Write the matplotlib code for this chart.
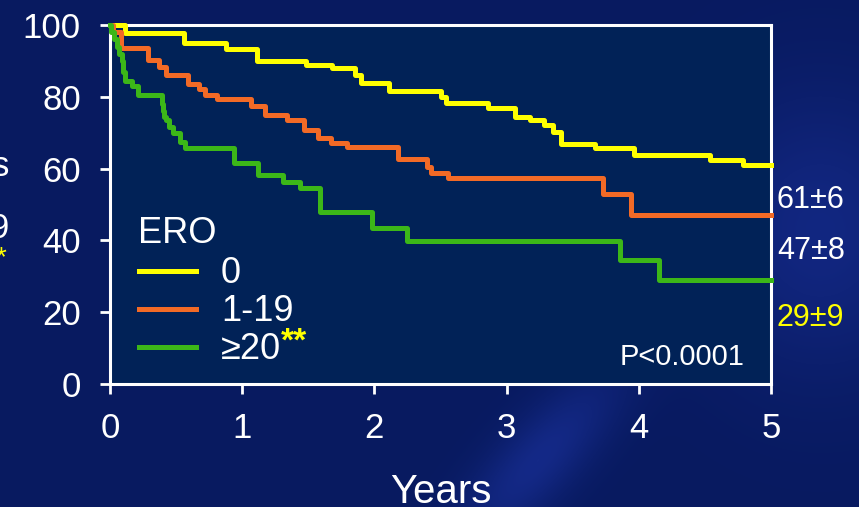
import numpy as np
import matplotlib.pyplot as plt
from matplotlib.lines import Line2D

plt.rcParams['font.family'] = ['Liberation Sans', 'DejaVu Sans']

# Kaplan-Meier steps per ERO group (years, % event-free)
t_ero0 = [0, 0.11, 0.56, 0.88, 1.11, 1.48, 1.68, 1.85, 1.90, 2.11, 2.50, 2.54,
          2.86, 3.06, 3.18, 3.28, 3.35, 3.41, 3.67, 3.96, 4.54, 4.79, 5.0]
s_ero0 = [100, 97.7, 94.9, 93.2, 90.1, 88.9, 87.9, 86.0, 83.8, 81.7, 80.0, 78.4,
          77.0, 74.5, 73.4, 72.2, 70.3, 66.9, 65.7, 63.8, 62.4, 61, 61]

t_ero1 = [0, 0.02, 0.08, 0.29, 0.37, 0.42, 0.59, 0.67, 0.72, 0.81, 1.07, 1.17,
          1.34, 1.47, 1.57, 1.67, 1.79, 2.18, 2.40, 2.43, 2.56, 3.73, 3.94, 5.0]
s_ero1 = [100, 98, 93.5, 90.2, 88.4, 86.0, 83.7, 82.3, 80.5, 79.3, 77.4, 74.9,
          73.5, 70.8, 68.5, 67.2, 65.9, 62.6, 60.5, 58.7, 57.3, 52.8, 47, 47]

t_ero20 = [0, 0.01, 0.03, 0.05, 0.07, 0.09, 0.10, 0.11, 0.17, 0.21, 0.39, 0.40,
           0.41, 0.42, 0.45, 0.48, 0.53, 0.57, 0.94, 1.12, 1.31, 1.44, 1.59,
           1.98, 2.25, 3.86, 4.15, 5.0]
s_ero20 = [100, 98, 96, 94, 92, 90, 87, 84.5, 83, 80.5, 78, 76,
           74.5, 73.4, 71.7, 69.8, 67.5, 65.8, 61.5, 58.2, 56.2, 54.5, 48,
           43.5, 39.8, 34.5, 29, 29]

groups = ['0', '1-19', '\u226520']
colors = ['#ffff00', '#f26a26', '#3cb718']
err_5y = [6, 8, 9]
end_colors = ['white', 'white', '#ffff00']

fig = plt.figure(figsize=(8.59, 5.07), dpi=100)

# slide background: dark blue with a faint light streak
bg = fig.add_axes([0, 0, 1, 1], zorder=0)
bg.axis('off')
yy, xx = np.mgrid[0:507, 0:859]
base = np.zeros((507, 859, 3))
base[..., 0] = 8 / 255
base[..., 1] = 26 / 255
base[..., 2] = 96 / 255
d = (xx - 560) * 0.8 + (yy - 430) * 0.6
streak = np.exp(-(d / 40.0) ** 2) * np.exp(-((yy - 460) / 90.0) ** 2) * 0.3
glow = np.exp(-(((xx - 820) / 120.0) ** 2 + ((yy - 230) / 140.0) ** 2)) * 0.25
for k, c in enumerate([40, 50, 130]):
    base[..., k] += (streak + glow) * c / 255
bg.imshow(np.clip(base, 0, 1), extent=[0, 1, 0, 1], aspect='auto')

ax = fig.add_axes([110 / 859, 1 - 384 / 507, 661 / 859, 359 / 507], zorder=1)
ax.set_facecolor('#012257')

series = [(t_ero0, s_ero0), (t_ero1, s_ero1), (t_ero20, s_ero20)]
for (t, s), c in zip(series, colors):
    ax.step(t, s, where='post', color=c, lw=3.6, clip_on=False, zorder=3)

ax.set_xlim(0, 5)
ax.set_ylim(0, 100)
ax.set_xticks(range(0, 6))
ax.set_yticks(range(0, 101, 20))
for sp in ax.spines.values():
    sp.set_color('white')
    sp.set_linewidth(2.2)
ax.tick_params(colors='white', labelsize=25, width=2, length=7, direction='out')
ax.tick_params(axis='y', pad=14)
ax.tick_params(axis='x', pad=13)
ax.set_xlabel('Years', color='white', fontsize=29, labelpad=20)

# legend drawn by hand
ax.text(0.043, 0.418, 'ERO', transform=ax.transAxes, color='white',
        fontsize=26, va='center', ha='left')
leg_y = [0.315, 0.209, 0.103]
leg_txt = []
for g, c, y in zip(groups, colors, leg_y):
    ax.add_line(Line2D([0.044, 0.13], [y, y], transform=ax.transAxes,
                       color=c, lw=3.6))
    leg_txt.append(ax.text(0.168, y - 0.008, g, transform=ax.transAxes,
                           color='white', fontsize=26, va='center', ha='left'))
ax.annotate('**', xy=(1.0, 0.72), xycoords=leg_txt[-1], color='#ffff00',
            fontsize=24, va='center', ha='left', fontweight='bold')

ax.text(0.96, 0.075, 'P<0.0001', transform=ax.transAxes, color='white',
        fontsize=21, va='center', ha='right')

# 5-year estimates beside the right axis
for s, e, c, ypx in zip([s_ero0, s_ero1, s_ero20], err_5y, end_colors,
                        [200, 251, 318]):
    fig.text(777 / 859, 1 - ypx / 507, f'{s[-1]:g}\u00b1{e}', color=c,
             fontsize=22, va='center', ha='left')

# clipped y-axis title fragments at the slide edge
fig.text(9 / 859, 1 - 167 / 507, 's', color='white', fontsize=25,
         ha='right', va='center')
fig.text(9 / 859, 1 - 228 / 507, '9', color='white', fontsize=25,
         ha='right', va='center')
fig.text(6 / 859, 1 - 258 / 507, '*', color='#ffff00', fontsize=20,
         ha='right', va='center')

fig.savefig('out.png', dpi=100)
